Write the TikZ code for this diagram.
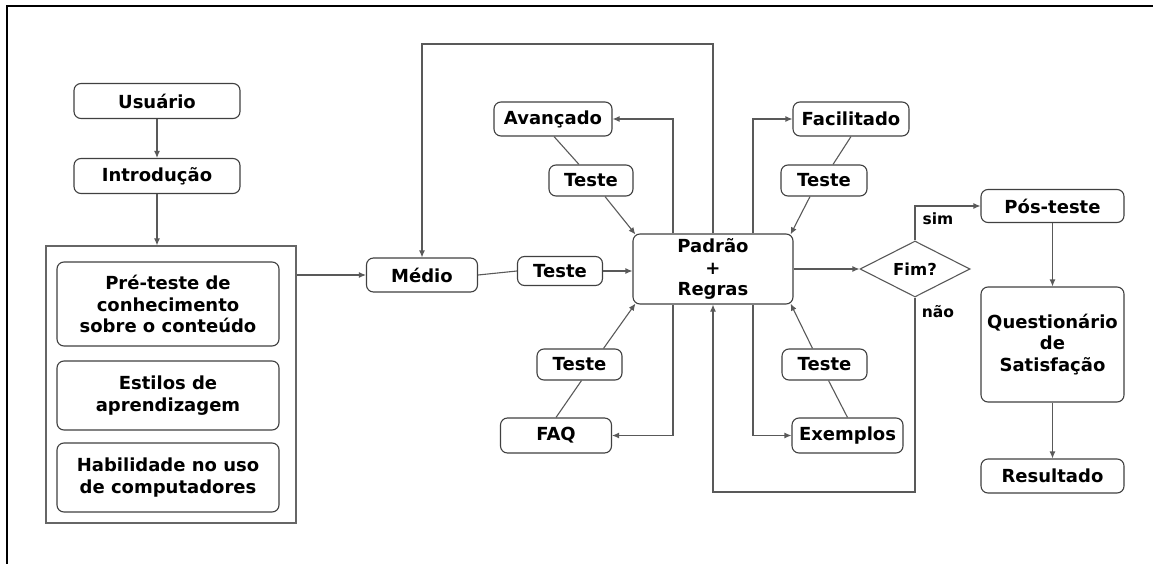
\documentclass[tikz,border=0pt]{standalone}
\usepackage{fontspec}
\newfontfamily\bfont{DejaVu Sans}
\usetikzlibrary{shapes.geometric,arrows.meta}
\tikzset{
  rbox/.style={draw=black!75, line width=1.1pt, rounded corners=7pt, fill=white,
    font=\bfont\bfseries\fontsize{18}{21.5}\selectfont, align=center, inner sep=0pt},
  conn/.style={draw=black!65, line width=1.1pt},
  arr/.style={conn, -{Latex[length=7pt,width=6pt]}},
  lbl/.style={font=\bfont\bfseries\fontsize{15.5}{18}\selectfont, inner sep=0pt},
}
\begin{document}
\begin{tikzpicture}[x=1pt,y=-1pt]
\useasboundingbox (0,0) rectangle (1153,564);
\draw[line width=2.5pt] (7,564) -- (7,6) -- (1153,6);

% left column
\node[rbox, minimum width=166pt, minimum height=35pt] (usu) at (157,101) {Usuário};
\node[rbox, minimum width=166pt, minimum height=35pt] (int) at (157,176) {Introdução};
\node[draw=black!60, line width=1.2pt, fill=white, minimum width=250pt, minimum height=277pt, inner sep=0pt] (big) at (171,384.5) {};
\node[rbox, minimum width=222pt, minimum height=84pt] (pre) at (168,304) {Pré-teste de\\conhecimento\\sobre o conteúdo};
\node[rbox, minimum width=222pt, minimum height=69pt] (est) at (168,395.5) {Estilos de\\aprendizagem};
\node[rbox, minimum width=222pt, minimum height=69pt] (hab) at (168,477.5) {Habilidade no uso\\de computadores};

% middle
\node[rbox, minimum width=111pt, minimum height=34pt] (med) at (422,275) {Médio};
\node[rbox, minimum width=85pt, minimum height=29pt] (t0) at (560,271) {Teste};
\node[rbox, minimum width=160pt, minimum height=70pt] (pad) at (713,269) {Padrão\\+\\Regras};

\node[rbox, minimum width=118pt, minimum height=34pt] (ava) at (553,119) {Avançado};
\node[rbox, minimum width=84pt, minimum height=31pt] (t1) at (591,180.5) {Teste};
\node[rbox, minimum width=116pt, minimum height=34pt] (fac) at (851,119) {Facilitado};
\node[rbox, minimum width=86pt, minimum height=31pt] (t2) at (824,180.5) {Teste};
\node[rbox, minimum width=111pt, minimum height=35pt] (faq) at (556,435.5) {FAQ};
\node[rbox, minimum width=85pt, minimum height=31pt] (t3) at (579.5,364.5) {Teste};
\node[rbox, minimum width=111pt, minimum height=35pt] (exe) at (847.5,435.5) {Exemplos};
\node[rbox, minimum width=85pt, minimum height=31pt] (t4) at (824.5,364.5) {Teste};

% decision
\node[draw=black!65, line width=1.1pt, fill=white, diamond, aspect=1.96, minimum width=110pt, minimum height=56pt, inner sep=0pt,
  font=\bfont\bfseries\fontsize{16.5}{19}\selectfont] (fim) at (915,269) {Fim?};
\node[lbl] (sim) at (938,219) {sim};
\node[lbl] (nao) at (938,312) {não};

% right column
\node[rbox, minimum width=143pt, minimum height=33pt] (pos) at (1052.5,206) {Pós-teste};
\node[rbox, minimum width=143pt, minimum height=115pt] (que) at (1052.5,344.5) {Questionário\\de\\Satisfação};
\node[rbox, minimum width=143pt, minimum height=34pt] (res) at (1052.5,476) {Resultado};

\coordinate (top) at (0,44);
\coordinate (bot) at (0,492);

% connectors
\draw[arr] (usu) -- (int);
\draw[arr] (int.south) -- (int.south |- big.north);
\draw[arr] (big.east |- med) -- (med.west);
\draw[conn] (med.east) -- (t0.west);
\draw[arr] (t0.east) -- (pad.west |- t0.east);
\draw[arr] (pad.north) -- (pad.north |- top) -| (med.north);

\draw[arr] ([xshift=-40pt]pad.north) |- (ava.east);
\draw[arr] ([xshift=40pt]pad.north) |- (fac.west);
\draw[arr] ([xshift=-40pt]pad.south) |- (faq.east);
\draw[arr] ([xshift=40pt]pad.south) |- (exe.west);

\draw[conn] ([xshift=1pt]ava.south) -- ([xshift=-12pt]t1.north);
\draw[arr] ([xshift=14pt]t1.south) -- ([xshift=3pt,yshift=-1pt]pad.north west);
\draw[conn] (fac.south) -- ([xshift=9pt]t2.north);
\draw[arr] ([xshift=-14pt]t2.south) -- ([xshift=-3pt,yshift=-1pt]pad.north east);
\draw[conn] (faq.north) -- ([xshift=2pt]t3.south);
\draw[arr] ([xshift=24pt]t3.north) -- ([xshift=3pt,yshift=1pt]pad.south west);
\draw[conn] (exe.north) -- ([xshift=4pt]t4.south);
\draw[arr] ([xshift=-12pt]t4.north) -- ([xshift=-3pt,yshift=1pt]pad.south east);

\draw[arr] (pad.east) -- (fim.west);
\draw[arr] (fim.north) |- (pos.west);
\draw[arr] (fim.south) -- (fim.south |- bot) -| (pad.south);

\draw[arr] (pos) -- (que);
\draw[arr] (que) -- (res);
\end{tikzpicture}
\end{document}
